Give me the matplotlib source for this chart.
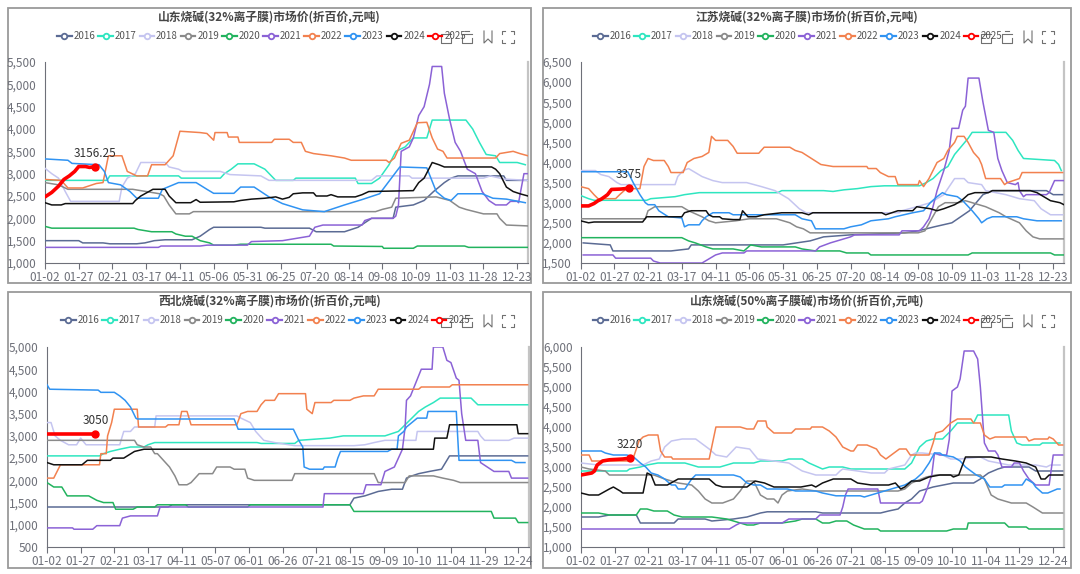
import matplotlib
matplotlib.use("Agg")
import matplotlib.pyplot as plt
from matplotlib.lines import Line2D
from matplotlib.patches import Rectangle
from matplotlib.ticker import FuncFormatter

plt.rcParams['font.family'] = ['Noto Sans CJK SC', 'DejaVu Sans']

# --- common ---
years = ['2016', '2017', '2018', '2019', '2020', '2021', '2022', '2023', '2024', '2025']
colors = ['#5b6b94', '#2ee6c0', '#c5c5f0', '#8a8a8a', '#22b35e',
          '#8b62d6', '#f2814f', '#3093f2', '#111111', '#ff0000']

labels_a = ['01-02', '01-27', '02-21', '03-17', '04-11', '05-06', '05-31', '06-25',
            '07-20', '08-14', '09-08', '10-09', '11-03', '11-28', '12-23']
labels_b = ['01-02', '01-27', '02-21', '03-17', '04-11', '05-07', '06-01', '06-26',
            '07-21', '08-15', '09-09', '10-10', '11-04', '11-29', '12-24']

# --- 山东烧碱(32%离子膜) ---  (category index, price)
sd32_2016 = [(0,1500),(25,1500),(28,1450),(43,1450),(48,1430),(68,1430),(74,1450),(81,1500),(89,1520),(109,1520),(115,1600),(122,1750),(125,1800),(160,1800),(163,1780),(196,1780),(201,1700),(222,1700),(227,1750),(232,1800),(237,1900),(242,2000),(258,2000),(260,2250),(273,2300),(281,2400),(288,2600),(296,2800),(301,2900),(306,2950),(340,2950),(342,2850),(358,2850)]
sd32_2017 = [(0,2850),(46,2850),(48,2950),(99,2950),(101,2900),(130,2900),(133,3000),(138,3100),(143,3220),(155,3220),(163,3100),(171,2850),(184,2850),(186,2900),(230,2900),(232,2780),(242,2780),(248,2900),(255,3200),(260,3500),(267,3600),(273,3800),(283,3800),(287,4200),(312,4200),(317,4000),(322,3700),(327,3430),(334,3400),(337,3250),(350,3250),(356,3200)]
sd32_2018 = [(0,3120),(5,3000),(10,2900),(15,2600),(19,2380),(55,2380),(57,2700),(61,2900),(67,3000),(71,3250),(89,3250),(92,3150),(99,3100),(102,3050),(130,3050),(137,2980),(160,2950),(166,2850),(242,2850),(246,2950),(270,2950),(272,2900),(325,2900),(330,2950),(340,2880),(358,2850)]
sd32_2019 = [(0,2800),(10,2750),(17,2650),(65,2650),(75,2600),(85,2550),(88,2500),(92,2300),(97,2100),(107,2100),(110,2150),(245,2150),(250,2200),(257,2250),(260,2450),(290,2480),(300,2400),(307,2250),(312,2200),(325,2100),(335,2100),(337,2000),(342,1850),(358,1830)]
sd32_2020 = [(0,1820),(5,1780),(66,1780),(69,1750),(79,1700),(94,1700),(97,1650),(104,1600),(109,1600),(115,1500),(122,1450),(125,1400),(140,1400),(145,1420),(212,1420),(214,1380),(250,1370),(251,1330),(273,1330),(276,1380),(311,1380),(314,1350),(358,1350)]
sd32_2021 = [(0,1350),(84,1350),(86,1380),(115,1380),(120,1400),(150,1400),(153,1480),(176,1500),(186,1550),(196,1600),(200,1800),(206,1850),(235,1850),(237,1950),(242,2000),(258,2000),(260,2050),(262,2300),(264,3500),(270,3600),(273,3800),(277,4300),(281,4500),(285,5000),(287,5400),(294,5400),(296,4800),(300,4200),(304,3700),(308,3500),(313,3100),(319,3000),(324,2600),(329,2400),(334,2300),(342,2300),(345,2380),(350,2380),(351,2350),(355,3000),(358,3000)]
sd32_2022 = [(0,2870),(12,2850),(17,2680),(28,2680),(38,2780),(43,2800),(47,3400),(57,3400),(61,3050),(68,2950),(76,2950),(79,3200),(89,3200),(95,3400),(100,3950),(115,3920),(120,3900),(125,3750),(126,3920),(135,3920),(136,3820),(143,3820),(144,3700),(168,3700),(170,3770),(181,3770),(184,3700),(190,3700),(193,3500),(199,3450),(212,3400),(222,3350),(227,3300),(253,3300),(255,3250),(259,3350),(264,3680),(270,3750),(276,4140),(283,4150),(287,3800),(291,3550),(295,3500),(298,3350),(334,3350),(337,3450),(347,3500),(352,3450),(358,3400)]
sd32_2023 = [(0,3330),(17,3300),(20,3230),(40,3200),(44,3050),(47,2800),(56,2750),(63,2600),(68,2450),(84,2450),(87,2650),(99,2800),(112,2800),(120,2650),(125,2560),(140,2560),(145,2700),(155,2700),(166,2480),(176,2330),(191,2190),(207,2150),(222,2300),(235,2420),(248,2550),(263,3150),(283,3130),(290,2600),(296,2450),(301,2400),(306,2550),(324,2550),(332,2450),(342,2430),(356,2350)]
sd32_2024 = [(0,2350),(5,2300),(12,2300),(15,2330),(65,2330),(67,2400),(71,2500),(77,2600),(80,2650),(89,2650),(92,2500),(97,2350),(108,2350),(112,2420),(115,2360),(140,2370),(145,2400),(153,2430),(163,2450),(171,2480),(176,2430),(181,2470),(184,2550),(191,2570),(199,2570),(201,2500),(209,2500),(212,2530),(217,2480),(230,2480),(235,2530),(240,2600),(273,2620),(277,2800),(281,2900),(287,3250),(292,3200),(296,3150),(331,3150),(334,3100),(337,3000),(342,2700),(347,2600),(352,2550),(358,2500)]
sd32_2025 = [(0,2480),(5,2580),(10,2720),(14,2870),(18,2950),(22,3050),(25,3160),(30,3160),(33,3140),(37,3156.25)]

# --- 江苏烧碱(32%离子膜) ---
js32_2016 = [(2,2000),(22,1950),(24,1800),(67,1800),(80,1850),(82,1950),(150,1950),(170,2050),(180,2150),(200,2200),(240,2250),(250,2300),(262,2400),(275,2500),(288,2800),(298,3200),(305,3300),(345,3300),(350,3200),(357,3200)]
js32_2017 = [(0,3180),(6,3100),(10,3060),(49,3060),(52,3100),(70,3150),(77,3200),(88,3250),(146,3250),(149,3300),(180,3300),(187,3280),(195,3320),(205,3350),(215,3400),(225,3420),(251,3420),(256,3500),(261,3600),(267,3800),(272,3900),(277,4200),(282,4400),(287,4600),(290,4750),(315,4750),(320,4550),(324,4300),(328,4100),(351,4050),(354,3950),(356,3800)]
js32_2018 = [(0,3800),(11,3800),(15,3700),(21,3650),(27,3500),(30,3450),(70,3450),(72,3650),(76,3800),(80,3850),(85,3750),(90,3650),(98,3550),(105,3500),(123,3500),(134,3400),(144,3300),(154,3100),(162,2850),(167,2750),(236,2750),(238,2800),(249,2900),(259,3000),(264,3100),(269,3200),(277,3600),(284,3600),(287,3500),(297,3450),(300,3300),(315,3200),(325,3100),(336,3050),(341,2850),(348,2700),(357,2700)]
js32_2019 = [(0,2600),(48,2600),(50,2800),(55,2900),(75,2900),(80,2800),(90,2650),(95,2550),(100,2500),(115,2550),(125,2600),(145,2600),(155,2500),(160,2400),(165,2350),(170,2250),(250,2250),(255,2300),(265,2900),(270,3000),(280,3000),(285,3050),(290,3000),(300,2900),(310,2750),(315,2650),(325,2500),(330,2300),(335,2150),(340,2100),(358,2100)]
js32_2020 = [(0,2130),(75,2130),(80,2050),(85,2000),(93,1900),(98,1850),(113,1850),(121,1800),(126,1950),(134,1900),(159,1900),(164,1850),(174,1800),(192,1800),(197,1750),(213,1750),(215,1700),(287,1700),(290,1750),(348,1750),(351,1700),(358,1700)]
js32_2021 = [(2,1700),(24,1700),(26,1620),(52,1620),(54,1550),(59,1500),(90,1500),(95,1600),(100,1700),(105,1750),(121,1750),(123,1800),(174,1800),(177,1900),(185,2000),(195,2100),(200,2150),(203,2200),(236,2200),(238,2300),(251,2300),(254,2400),(258,2600),(261,2900),(264,3300),(269,3800),(273,4300),(275,4850),(280,4850),(283,5300),(285,5400),(287,6100),(295,6100),(298,5500),(302,4800),(306,4750),(309,4100),(312,3800),(316,3500),(322,3450),(324,3500),(325,3300),(328,3150),(330,3200),(345,3200),(347,3250),(351,3550),(358,3550)]
js32_2022 = [(0,3400),(6,3350),(10,3200),(13,3100),(26,3100),(29,3200),(34,3350),(44,3350),(47,3900),(50,4100),(54,4050),(62,4050),(65,3900),(67,3750),(76,3750),(79,4000),(84,4100),(90,4150),(95,4250),(97,4650),(100,4550),(109,4550),(113,4400),(116,4230),(132,4230),(136,4380),(155,4380),(159,4300),(164,4250),(171,4100),(178,3950),(187,3900),(212,3900),(213,3850),(219,3850),(222,3750),(228,3650),(233,3650),(235,3450),(250,3450),(251,3550),(254,3400),(258,3600),(261,3800),(264,4000),(269,4100),(272,4300),(277,4500),(279,4650),(284,4650),(287,4500),(291,4250),(295,4100),(297,3950),(300,3600),(311,3600),(314,3450),(316,3500),(325,3600),(327,3750),(357,3750)]
js32_2023 = [(0,3770),(35,3770),(39,3500),(44,3200),(48,3000),(50,2950),(55,2950),(58,2800),(65,2650),(75,2620),(77,2400),(80,2450),(88,2450),(90,2550),(93,2650),(98,2750),(110,2750),(113,2700),(159,2700),(164,2600),(171,2550),(174,2350),(195,2350),(200,2400),(208,2450),(215,2550),(228,2600),(233,2650),(246,2750),(254,2800),(259,3000),(264,3150),(268,3250),(271,3200),(279,3150),(283,3050),(290,2800),(295,2600),(297,2500),(301,2600),(305,2650),(323,2650),(328,2600),(338,2550),(356,2550)]
js32_2024 = [(0,2550),(6,2500),(10,2520),(46,2520),(49,2650),(75,2650),(77,2750),(82,2800),(93,2800),(95,2700),(98,2650),(103,2650),(105,2600),(113,2580),(118,2580),(120,2800),(124,2650),(130,2650),(136,2700),(149,2750),(164,2750),(169,2700),(172,2750),(223,2750),(226,2700),(235,2800),(246,2800),(249,2900),(259,2850),(264,2800),(269,2850),(277,2950),(282,3050),(287,3200),(292,3250),(302,3250),(305,3300),(333,3300),(338,3250),(343,3150),(348,3050),(355,3000),(358,2950)]
js32_2025 = [(0,2920),(6,2920),(10,2980),(13,3050),(15,3080),(18,3150),(20,3200),(23,3330),(30,3340),(33,3350),(36,3375)]

# --- 西北烧碱(32%离子膜) ---
xb32_2016 = [(0,1400),(90,1400),(93,1450),(225,1450),(228,1600),(236,1650),(241,1700),(246,1750),(256,1800),(264,1800),(267,2050),(271,2100),(276,2150),(284,2200),(293,2250),(299,2550),(357,2550)]
xb32_2017 = [(0,2550),(39,2550),(42,2600),(47,2650),(54,2700),(62,2750),(72,2750),(75,2800),(80,2850),(156,2850),(159,2830),(184,2830),(187,2900),(210,2950),(220,3000),(251,3000),(261,3100),(266,3250),(271,3400),(276,3550),(281,3650),(287,3750),(292,3850),(315,3850),(320,3700),(357,3700)]
xb32_2018 = [(0,3300),(3,3300),(6,3000),(10,2900),(16,2800),(22,2800),(25,2950),(29,2800),(54,2800),(57,3100),(62,3100),(65,3200),(80,3200),(81,3450),(141,3450),(144,3400),(151,3300),(155,3100),(161,2900),(169,2850),(184,2780),(228,2780),(236,2800),(243,2850),(251,2900),(274,2900),(275,3100),(320,3100),(322,3000),(325,2900),(343,2900),(347,2950),(357,2950)]
xb32_2019 = [(0,2900),(65,2900),(67,2800),(72,2750),(77,2750),(80,2600),(82,2600),(88,2400),(91,2300),(95,2100),(98,1900),(104,1900),(107,1950),(113,2150),(123,2150),(126,2300),(136,2300),(139,2250),(147,2250),(149,2050),(154,2000),(182,2000),(184,2150),(243,2150),(246,1950),(266,1950),(269,2100),(287,2100),(294,2050),(302,2000),(307,1950),(357,1950)]
xb32_2020 = [(0,1950),(5,1850),(11,1850),(15,1650),(31,1650),(37,1550),(42,1500),(49,1500),(51,1350),(64,1350),(67,1400),(80,1400),(82,1450),(103,1450),(105,1400),(149,1400),(151,1450),(225,1450),(228,1300),(330,1300),(332,1150),(348,1150),(350,1050),(357,1050)]
xb32_2021 = [(0,930),(19,930),(20,900),(34,900),(37,980),(54,980),(56,1150),(62,1200),(82,1200),(84,1400),(205,1400),(206,1700),(235,1700),(237,1900),(248,1900),(251,2200),(258,2300),(264,2700),(266,3200),(267,3800),(270,3900),(274,4200),(278,4500),(286,4500),(287,5000),(294,5000),(297,4700),(300,4650),(304,4300),(306,4250),(308,3500),(311,2900),(320,2900),(322,2400),(327,2300),(332,2200),(343,2200),(345,2050),(357,2050)]
xb32_2022 = [(0,2050),(5,2050),(10,2350),(39,2350),(40,2600),(44,2600),(45,3000),(48,3300),(50,3600),(67,3600),(68,3200),(88,3200),(90,3250),(98,3250),(100,3550),(104,3550),(107,3250),(141,3250),(144,3500),(149,3550),(156,3550),(159,3700),(162,3800),(169,3800),(172,3950),(192,3950),(193,3600),(197,3500),(199,3750),(211,3750),(213,3800),(225,3800),(228,3850),(235,3900),(243,3900),(246,4050),(276,4050),(278,4100),(299,4100),(301,4150),(357,4150)]
xb32_2023 = [(0,4150),(2,4050),(38,4030),(40,3980),(50,3980),(54,3900),(58,3800),(62,3650),(66,3400),(67,3380),(139,3380),(142,3150),(183,3150),(187,2900),(190,2750),(191,2300),(195,2250),(205,2250),(206,2300),(214,2300),(216,2500),(218,2650),(253,2650),(256,2700),(260,2700),(261,3000),(265,3100),(267,3200),(275,3400),(282,3400),(283,3550),(304,3550),(306,2450),(345,2450),(348,2400),(355,2400)]
xb32_2024 = [(0,2400),(5,2350),(26,2350),(30,2450),(47,2450),(49,2500),(57,2500),(65,2650),(72,2700),(287,2700),(288,2950),(297,2950),(299,3250),(349,3250),(350,3050),(357,3050)]
xb32_2025 = [(0,3050),(18,3050),(36,3050)]

# --- 山东烧碱(50%离子膜碱) ---
sd50_2016 = [(0,1750),(13,1750),(21,1800),(41,1800),(44,1600),(69,1600),(72,1700),(92,1700),(97,1650),(113,1700),(123,1750),(133,1850),(138,1880),(174,1880),(179,1850),(222,1850),(228,1900),(235,1950),(240,2100),(245,2200),(251,2400),(261,2500),(276,2600),(291,2600),(296,2700),(302,2850),(309,2950),(314,3000),(332,3000),(337,2900),(357,2900)]
sd50_2017 = [(0,2900),(34,2900),(36,2950),(44,3000),(49,3050),(57,3100),(77,3100),(82,3050),(87,3000),(103,3000),(108,3050),(113,3100),(128,3100),(133,3150),(149,3150),(154,3200),(164,3200),(169,3100),(179,2950),(184,3000),(194,3000),(200,2950),(240,2950),(245,3100),(251,3500),(256,3650),(261,3700),(268,3700),(274,3900),(279,4100),(291,4100),(294,4300),(317,4300),(319,3900),(323,3600),(327,3550),(340,3550),(342,3600),(355,3600)]
sd50_2018 = [(0,3100),(13,3050),(46,3050),(52,3150),(58,3200),(62,3500),(67,3650),(75,3700),(85,3700),(87,3650),(95,3450),(100,3300),(108,3250),(115,3500),(125,3450),(131,3200),(143,3150),(154,3100),(164,2900),(174,2800),(189,2800),(192,2900),(194,2950),(205,2900),(215,2850),(225,2850),(228,2950),(240,3050),(245,3300),(248,3350),(253,3350),(268,3300),(274,3200),(281,3200),(296,3250),(302,3150),(317,3050),(337,3050),(345,3000),(348,3050),(355,3050)]
sd50_2019 = [(0,3000),(6,2950),(18,2900),(21,2800),(54,2800),(62,2700),(72,2600),(82,2550),(87,2400),(92,2200),(97,2100),(105,2100),(113,2200),(118,2400),(123,2650),(128,2650),(133,2300),(138,2200),(143,2200),(146,2100),(149,2300),(153,2400),(164,2450),(174,2400),(235,2400),(240,2450),(245,2600),(256,2750),(263,2800),(296,2800),(299,2700),(304,2300),(309,2200),(319,2100),(330,2100),(335,2000),(342,1850),(357,1850)]
sd50_2020 = [(0,1850),(13,1850),(21,1800),(41,1800),(44,1950),(49,1950),(54,1900),(64,1900),(69,1800),(75,1750),(97,1750),(108,1700),(118,1600),(123,1550),(128,1550),(133,1600),(149,1600),(159,1650),(164,1700),(174,1700),(179,1600),(184,1600),(189,1650),(197,1650),(202,1550),(210,1450),(220,1450),(222,1400),(271,1400),(276,1450),(286,1450),(287,1600),(314,1600),(317,1500),(330,1500),(332,1450),(357,1450)]
sd50_2021 = [(0,1450),(110,1450),(115,1550),(118,1600),(149,1600),(154,1700),(174,1700),(177,1800),(192,1800),(194,2000),(196,2300),(198,2450),(220,2450),(222,2100),(251,2100),(253,2150),(257,2500),(260,2800),(262,3350),(266,3300),(271,3300),(272,3500),(273,3700),(275,4900),(279,5000),(281,5200),(284,5900),(291,5900),(294,5700),(296,5000),(299,3600),(302,3400),(307,3400),(309,3300),(312,3000),(319,3000),(321,3100),(325,3100),(328,2900),(332,2700),(337,2550),(347,2550),(350,3300),(357,3300)]
sd50_2022 = [(0,3300),(6,3300),(8,3150),(37,3150),(39,3250),(43,3650),(46,3750),(50,3800),(57,3800),(59,3400),(62,3250),(67,3250),(68,3200),(95,3200),(100,4000),(118,4000),(123,3950),(128,3950),(131,4150),(137,4150),(138,4000),(143,3850),(156,3850),(159,3950),(170,3950),(171,4000),(179,4000),(184,3900),(189,3750),(194,3500),(200,3400),(202,3400),(205,3550),(212,3550),(219,3450),(222,3300),(226,3200),(230,3300),(236,3450),(241,3450),(244,3300),(258,3300),(261,3600),(263,3850),(268,3900),(274,4100),(279,4200),(289,4200),(291,4100),(296,4100),(299,3800),(303,3700),(307,3750),(330,3750),(332,3650),(336,3700),(346,3700),(347,3750),(350,3700),(354,3550),(357,3550)]
sd50_2023 = [(0,3400),(15,3400),(18,3350),(24,3300),(34,3300),(39,3250),(44,3100),(48,3000),(52,2850),(57,2800),(62,2700),(67,2550),(70,2550),(72,2450),(77,2450),(82,2700),(85,2800),(113,2800),(118,2750),(123,2600),(128,2550),(133,2550),(138,2450),(153,2450),(159,2400),(174,2400),(179,2350),(189,2280),(207,2280),(210,2250),(220,2350),(225,2400),(235,2500),(240,2550),(248,2700),(253,2850),(258,3100),(262,3350),(266,3350),(268,3300),(276,3250),(281,3150),(285,3000),(289,2900),(293,2800),(299,2700),(303,2500),(312,2500),(314,2550),(327,2550),(330,2700),(335,2600),(337,2500),(342,2350),(346,2350),(353,2450),(355,2450)]
sd50_2024 = [(0,2350),(6,2300),(13,2300),(21,2450),(24,2500),(29,2400),(31,2350),(46,2350),(49,2850),(52,2800),(55,2550),(64,2550),(72,2700),(95,2700),(100,2550),(105,2500),(123,2500),(129,2650),(136,2600),(143,2500),(163,2500),(171,2550),(174,2500),(179,2600),(187,2700),(200,2700),(205,2600),(215,2550),(228,2550),(233,2600),(237,2450),(240,2500),(245,2650),(251,2650),(258,2750),(266,2800),(274,2800),(276,2750),(280,2800),(285,3250),(304,3250),(312,3200),(322,3150),(330,3100),(337,3000),(341,2700),(344,2700),(347,2800),(357,2800)]
sd50_2025 = [(0,2800),(8,2850),(10,2900),(12,3050),(16,3150),(21,3180),(31,3200),(36,3220)]

W, H = 1080, 574
fig = plt.figure(figsize=(W / 100, H / 100), dpi=100)

# overlay in pixel coordinates for frames and toolbox icons
over = fig.add_axes([0, 0, 1, 1], zorder=-1)
over.set_xlim(0, W)
over.set_ylim(H, 0)
over.axis('off')

panels = [
    dict(title='山东烧碱(32%离子膜)市场价(折百价,元吨)', data=[sd32_2016, sd32_2017, sd32_2018, sd32_2019, sd32_2020, sd32_2021, sd32_2022, sd32_2023, sd32_2024, sd32_2025],
         frame=(8, 8, 531, 283), ax=(45, 62, 528, 263), ylim=(1000, 5500), xlabels=labels_a, legx=57),
    dict(title='江苏烧碱(32%离子膜)市场价(折百价,元吨)', data=[js32_2016, js32_2017, js32_2018, js32_2019, js32_2020, js32_2021, js32_2022, js32_2023, js32_2024, js32_2025],
         frame=(543, 8, 1071, 283), ax=(580.5, 62, 1064, 263), ylim=(1500, 6500), xlabels=labels_a, legx=593),
    dict(title='西北烧碱(32%离子膜)市场价(折百价,元吨)', data=[xb32_2016, xb32_2017, xb32_2018, xb32_2019, xb32_2020, xb32_2021, xb32_2022, xb32_2023, xb32_2024, xb32_2025],
         frame=(8, 292, 531, 568), ax=(47, 347, 529, 547), ylim=(500, 5000), xlabels=labels_b, legx=61),
    dict(title='山东烧碱(50%离子膜碱)市场价(折百价,元吨)', data=[sd50_2016, sd50_2017, sd50_2018, sd50_2019, sd50_2020, sd50_2021, sd50_2022, sd50_2023, sd50_2024, sd50_2025],
         frame=(543, 292, 1071, 568), ax=(581, 347, 1064, 547), ylim=(1000, 6000), xlabels=labels_b, legx=593),
]

axis_grey = '#6e7079'
icon_grey = '#707070'


def draw_icons(xr, yc):
    # toolbox glyphs near top right of each panel
    x = xr - 85
    over.plot([x + 5, x - 5, x - 5, x + 5, x + 5], [yc - 3, yc - 3, yc + 6, yc + 6, yc + 1], color=icon_grey, lw=0.8)
    x = xr - 64
    over.plot([x + 5, x - 5, x - 5, x + 5, x + 5], [yc - 3, yc - 3, yc + 6, yc + 6, yc + 1], color=icon_grey, lw=0.8)
    over.plot([x - 2, x + 2], [yc - 6, yc - 6], color=icon_grey, lw=0.8)
    x = xr - 43
    over.plot([x - 4, x - 4, x, x + 4, x + 4], [yc - 6, yc + 6, yc + 2, yc + 6, yc - 6], color=icon_grey, lw=0.8)
    x = xr - 23
    for sx in (-1, 1):
        for sy in (-1, 1):
            over.plot([x + sx * 6, x + sx * 6, x + sx * 3], [yc + sy * 3, yc + sy * 6, yc + sy * 6], color=icon_grey, lw=0.8)


for p in panels:
    x0, y0, x1, y1 = p['frame']
    over.add_patch(Rectangle((x0, y0), x1 - x0, y1 - y0, fill=False, ec='#9a9a9a', lw=1.3))
    fig.text((x0 + x1) / 2 / W, 1 - (y0 + 8.5) / H, p['title'], ha='center', va='center',
             fontsize=8.5, fontweight='bold', color='#464646')
    draw_icons(x1, y0 + 29)

    al, at, ar, ab = p['ax']
    ax = fig.add_axes([al / W, 1 - ab / H, (ar - al) / W, (ab - at) / H])
    ax.patch.set_alpha(0)

    for yr, col, pts in zip(years, colors, p['data']):
        xs = [q[0] for q in pts]
        ys = [q[1] for q in pts]
        if yr == '2025':
            ax.plot(xs, ys, color=col, lw=2.6, solid_capstyle='round', zorder=5)
            ax.plot(xs[-1], ys[-1], 'o', color=col, ms=5, zorder=6)
            ax.annotate(f'{ys[-1]:g}', (xs[-1], ys[-1]), xytext=(0, 5), textcoords='offset points',
                        ha='center', va='bottom', fontsize=8.5, color='#333333', zorder=7)
        else:
            ax.plot(xs, ys, color=col, lw=1.1, zorder=3)

    ax.set_xlim(0, 358)
    ax.set_ylim(*p['ylim'])
    ax.set_yticks(range(p['ylim'][0], p['ylim'][1] + 1, 500))
    ax.yaxis.set_major_formatter(FuncFormatter(lambda v, _: f'{int(v):,}'))
    ax.set_xticks(range(0, 351, 25))
    ax.set_xticklabels(p['xlabels'])
    ax.spines['top'].set_visible(False)
    ax.spines['right'].set_color('#c4c4c4')
    ax.spines['right'].set_linewidth(1.6)
    for s in ('left', 'bottom'):
        ax.spines[s].set_color(axis_grey)
        ax.spines[s].set_linewidth(0.8)
    ax.tick_params(axis='x', direction='out', length=4, width=0.8, color=axis_grey,
                   labelsize=8.5, labelcolor=axis_grey, pad=2)
    ax.tick_params(axis='y', length=0, labelsize=8.5, labelcolor=axis_grey, pad=6)

    handles = [Line2D([], [], color=c, lw=1.6, marker='o', ms=4, mfc='white', mew=1.3) for c in colors]
    fig.legend(handles, years, loc='center left', bbox_to_anchor=(p['legx'] / W, 1 - (y0 + 28) / H),
               ncol=10, frameon=False, fontsize=7, labelcolor='#555555', handlelength=1.5,
               handletextpad=0.2, columnspacing=0.3, borderpad=0, borderaxespad=0)

fig.savefig('out.png', dpi=100)
